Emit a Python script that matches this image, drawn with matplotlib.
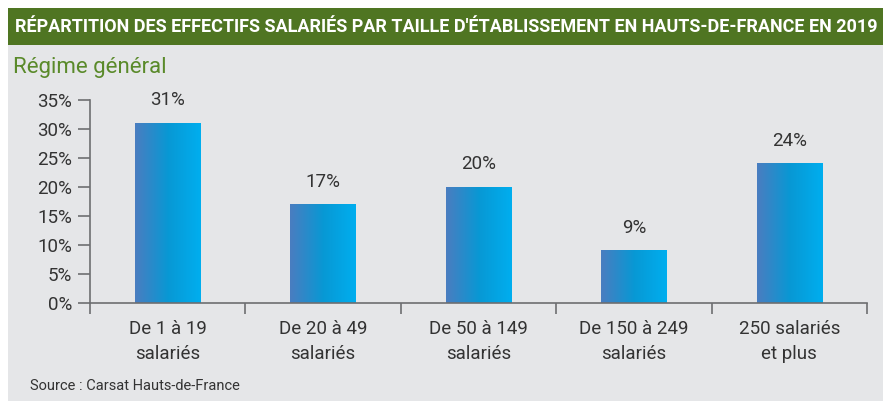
import numpy as np
import matplotlib
matplotlib.use("Agg")
import matplotlib.pyplot as plt
from matplotlib.patches import Rectangle
from matplotlib.colors import LinearSegmentedColormap

categories = ["De 1 à 19\nsalariés", "De 20 à 49\nsalariés", "De 50 à 149\nsalariés",
              "De 150 à 249\nsalariés", "250 salariés\net plus"]
values = [31, 17, 20, 9, 24]
value_labels = ["31%", "17%", "20%", "9%", "24%"]
yticks = [0, 5, 10, 15, 20, 25, 30, 35]
ytick_labels = ["0%", "5%", "10%", "15%", "20%", "25%", "30%", "35%"]
title = "RÉPARTITION DES EFFECTIFS SALARIÉS PAR TAILLE D'ÉTABLISSEMENT EN HAUTS-DE-FRANCE EN 2019"
subtitle = "Régime général"
source = "Source : Carsat Hauts-de-France"

plt.rcParams['font.family'] = ['Roboto', 'DejaVu Sans']

W, H = 892, 403
fig = plt.figure(figsize=(W / 100, H / 100), dpi=100)
fig.patch.set_facecolor("white")

def fx(px):
    return px / W

def fy(py):
    return 1 - py / H

# gray panel
fig.patches.append(Rectangle((fx(8), fy(401)), fx(883 - 8), (401 - 8) / H,
                             transform=fig.transFigure, facecolor="#e5e6e8",
                             edgecolor="none", zorder=-2))
# green title banner
fig.patches.append(Rectangle((fx(8), fy(45)), fx(883 - 8), (45 - 8) / H,
                             transform=fig.transFigure, facecolor="#4f7522",
                             edgecolor="none", zorder=-1))
fig.text(fx(15), fy(27), title, color="white", fontsize=12.95, fontweight="bold",
         va="center", ha="left")
fig.text(fx(13), fy(68), subtitle, color="#5a8a2a", fontsize=16, va="center", ha="left")
fig.text(fx(30), fy(386), source, color="#333333", fontsize=10.5, va="center", ha="left")

ax = fig.add_axes([fx(90), fy(303), fx(867 - 90), (303 - 100) / H])
ax.set_facecolor("none")

x = np.arange(len(categories))
bars = ax.bar(x, values, width=0.42, color="none", edgecolor="none")

cmap = LinearSegmentedColormap.from_list(
    "grad", [(0.0, "#4a7dc0"), (0.5, "#0898d4"), (1.0, "#00aeef")])
grad = np.linspace(0, 1, 256).reshape(1, -1)
for b in bars:
    x0, w, h = b.get_x(), b.get_width(), b.get_height()
    ax.imshow(grad, cmap=cmap, aspect="auto", extent=[x0, x0 + w, 0, h],
              zorder=2, interpolation="bicubic")

for xi, v, lab in zip(x, values, value_labels):
    ax.annotate(lab, (xi, v), xytext=(0, 10), textcoords="offset points",
                ha="center", va="bottom", fontsize=13.5, color="#333333")

ax.set_xlim(-0.5, 4.5)
ax.set_ylim(0, 35)
ax.set_yticks(yticks)
ax.set_yticklabels(ytick_labels, fontsize=13.5, color="#333333")

bounds = [-0.5, 0.5, 1.5, 2.5, 3.5, 4.5]
ax.set_xticks(bounds)
ax.set_xticklabels([])
ax.set_xticks(x, minor=True)
ax.set_xticklabels(categories, minor=True, fontsize=13.5, color="#333333",
                   linespacing=1.55)
ax.tick_params(axis="x", which="minor", length=0, pad=12)
ax.tick_params(axis="x", which="major", length=8, width=1.2, color="#6d6e71",
               direction="out")
ax.tick_params(axis="y", length=9, width=1.2, color="#6d6e71", pad=4)

for s in ["top", "right"]:
    ax.spines[s].set_visible(False)
for s in ["left", "bottom"]:
    ax.spines[s].set_color("#6d6e71")
    ax.spines[s].set_linewidth(1.2)
ax.spines["bottom"].set_zorder(5)

fig.savefig("out.png", dpi=100)
